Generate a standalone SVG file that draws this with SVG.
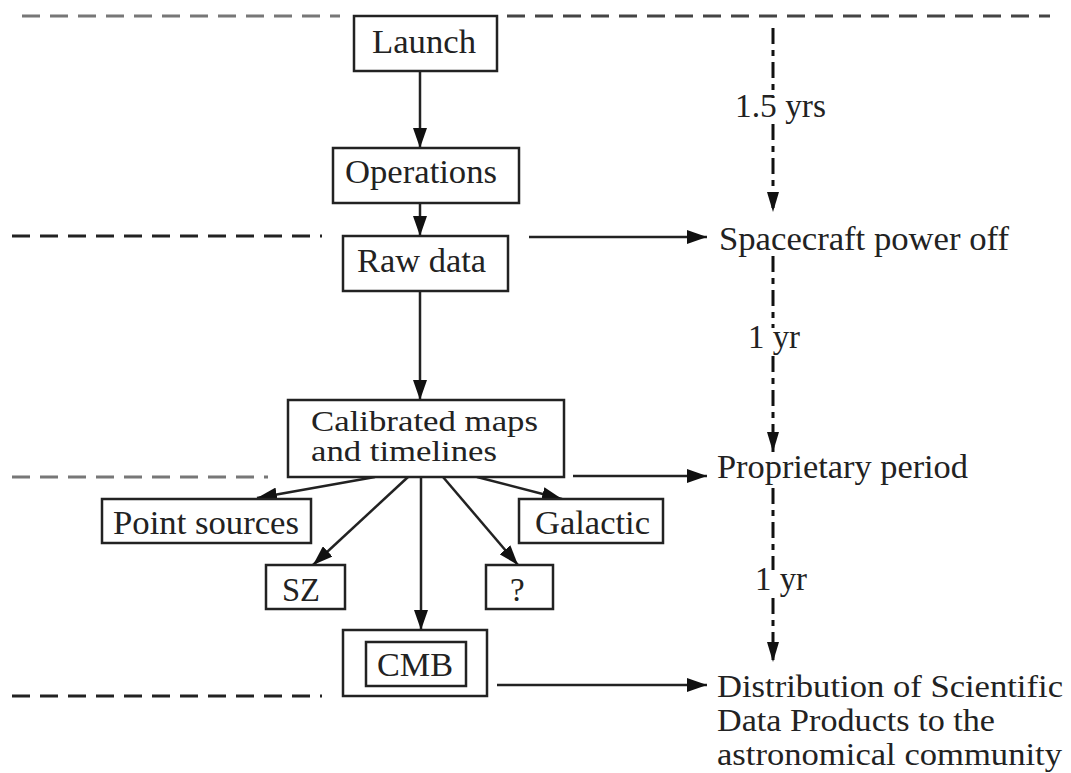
<svg xmlns="http://www.w3.org/2000/svg" width="1071" height="773" viewBox="0 0 1071 773">
<style>
  .box{fill:#fff;stroke:#222;stroke-width:2.5}
  .t{font-family:"Liberation Serif","Times New Roman",serif;font-size:33px;fill:#222}
  .s{font-size:30px}
  .d{font-size:31px}
  .sep{fill:none;stroke-width:3;stroke-dasharray:18 10}
  .conn{fill:none;stroke:#222;stroke-width:2.5}
  .tl{fill:none;stroke:#111;stroke-width:3;stroke-dasharray:16 6 6 6}
</style>
<defs>
  <marker id="ah" viewBox="0 0 20 14" refX="20" refY="7" markerWidth="20" markerHeight="14" markerUnits="userSpaceOnUse" orient="auto">
    <path d="M0,0 L20,7 L0,14 Z" fill="#111"/>
  </marker>
  <marker id="ahs" viewBox="0 0 20 12" refX="20" refY="6" markerWidth="20" markerHeight="12" markerUnits="userSpaceOnUse" orient="auto">
    <path d="M0,0 L20,6 L0,12 Z" fill="#111"/>
  </marker>
</defs>
<rect width="1071" height="773" fill="#fff"/>

<g id="separators">
  <line class="sep" x1="22" y1="16" x2="340" y2="16" stroke="#777"/>
  <line class="sep" x1="507" y1="16" x2="1050" y2="16" stroke="#444"/>
  <line class="sep" x1="12" y1="236" x2="322" y2="236" stroke="#222"/>
  <line class="sep" x1="12" y1="477" x2="268" y2="477" stroke="#777"/>
  <line class="sep" x1="12" y1="696" x2="322" y2="696" stroke="#222"/>
</g>

<g id="connectors">
  <line class="conn" x1="420" y1="71" x2="420" y2="148" marker-end="url(#ah)"/>
  <line class="conn" x1="420" y1="203" x2="420" y2="236" marker-end="url(#ah)"/>
  <line class="conn" x1="420" y1="291" x2="420" y2="400" marker-end="url(#ah)"/>
  <line class="conn" x1="375" y1="477" x2="257" y2="498" marker-end="url(#ah)"/>
  <line class="conn" x1="408" y1="477" x2="313" y2="565" marker-end="url(#ah)"/>
  <line class="conn" x1="421" y1="477" x2="421" y2="630" marker-end="url(#ah)"/>
  <line class="conn" x1="443" y1="477" x2="518" y2="565" marker-end="url(#ah)"/>
  <line class="conn" x1="477" y1="477" x2="562" y2="499" marker-end="url(#ah)"/>
  <line class="conn" x1="529" y1="237" x2="707" y2="237" marker-end="url(#ah)"/>
  <line class="conn" x1="573" y1="476" x2="707" y2="476" marker-end="url(#ah)"/>
  <line class="conn" x1="497" y1="685" x2="707" y2="685" marker-end="url(#ah)"/>
  <line class="tl" x1="773" y1="28" x2="773" y2="98"/>
  <line class="tl" x1="773" y1="124" x2="773" y2="212" marker-end="url(#ahs)"/>
  <line class="tl" x1="773" y1="256" x2="773" y2="328"/>
  <line class="tl" x1="773" y1="356" x2="773" y2="452" marker-end="url(#ahs)"/>
  <line class="tl" x1="773" y1="488" x2="773" y2="570"/>
  <line class="tl" x1="773" y1="598" x2="773" y2="662" marker-end="url(#ahs)"/>
</g>

<g id="launch">
  <rect class="box" x="354" y="16" width="143" height="55"/>
  <text class="t" x="372" y="53" textLength="104" lengthAdjust="spacingAndGlyphs">Launch</text>
</g>
<g id="operations">
  <rect class="box" x="333" y="148" width="186" height="55"/>
  <text class="t" x="345" y="183" textLength="152" lengthAdjust="spacingAndGlyphs">Operations</text>
</g>
<g id="raw-data">
  <rect class="box" x="343" y="236" width="165" height="55"/>
  <text class="t" x="357" y="272" textLength="129" lengthAdjust="spacingAndGlyphs">Raw data</text>
</g>
<g id="calibrated">
  <rect class="box" x="288" y="400" width="276" height="77"/>
  <text class="t s" x="311" y="431" textLength="227" lengthAdjust="spacingAndGlyphs">Calibrated maps</text>
  <text class="t s" x="311" y="461" textLength="186" lengthAdjust="spacingAndGlyphs">and timelines</text>
</g>
<g id="point-sources">
  <rect class="box" x="102" y="499" width="209" height="44"/>
  <text class="t" x="113" y="534" textLength="186" lengthAdjust="spacingAndGlyphs">Point sources</text>
</g>
<g id="galactic">
  <rect class="box" x="519" y="499" width="144" height="44"/>
  <text class="t" x="535" y="534" textLength="115" lengthAdjust="spacingAndGlyphs">Galactic</text>
</g>
<g id="sz">
  <rect class="box" x="266" y="565" width="79" height="44"/>
  <text class="t" x="282" y="601" textLength="38" lengthAdjust="spacingAndGlyphs">SZ</text>
</g>
<g id="unknown">
  <rect class="box" x="486" y="565" width="67" height="44"/>
  <text class="t" x="510" y="601">?</text>
</g>
<g id="cmb">
  <rect class="box" x="343" y="630" width="144" height="66"/>
  <rect class="box" x="366" y="642" width="100" height="44"/>
  <text class="t" x="377" y="676" textLength="76" lengthAdjust="spacingAndGlyphs">CMB</text>
</g>

<g id="timeline-labels">
  <text class="t" x="735" y="117" textLength="91" lengthAdjust="spacingAndGlyphs">1.5 yrs</text>
  <text class="t" x="719" y="250" textLength="290" lengthAdjust="spacingAndGlyphs">Spacecraft power off</text>
  <text class="t" x="748" y="348" textLength="52" lengthAdjust="spacingAndGlyphs">1 yr</text>
  <text class="t" x="717" y="478" textLength="251" lengthAdjust="spacingAndGlyphs">Proprietary period</text>
  <text class="t" x="755" y="590" textLength="52" lengthAdjust="spacingAndGlyphs">1 yr</text>
  <text class="t d" x="717" y="697" textLength="346" lengthAdjust="spacingAndGlyphs">Distribution of Scientific</text>
  <text class="t d" x="717" y="731" textLength="278" lengthAdjust="spacingAndGlyphs">Data Products to the</text>
  <text class="t d" x="717" y="765" textLength="345" lengthAdjust="spacingAndGlyphs">astronomical community</text>
</g>
</svg>
